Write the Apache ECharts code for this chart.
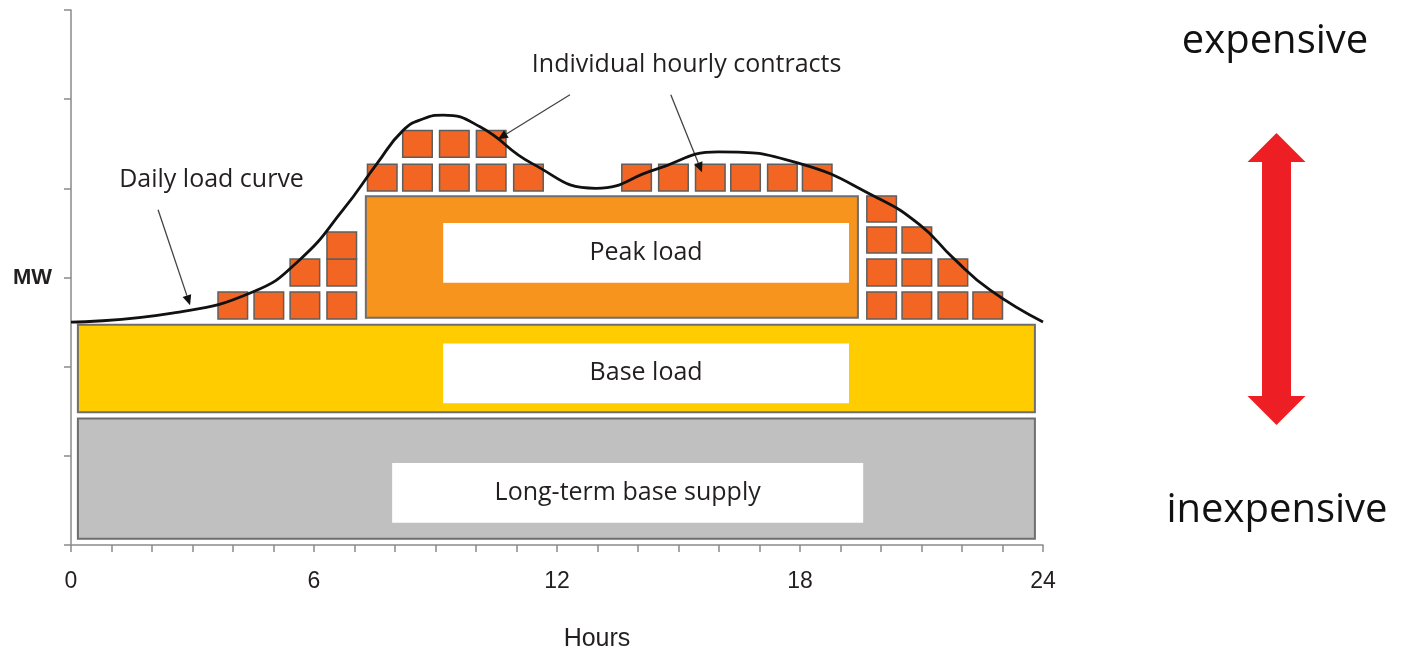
<!DOCTYPE html>
<html>
<head>
<meta charset="utf-8">
<script src="https://cdn.jsdelivr.net/npm/echarts@6/dist/echarts.min.js"></script>
<style>html,body{margin:0;padding:0;background:#fff}#c{width:1410px;height:652px}</style>
</head>
<body>
<div id="c"></div>
<script>
// ---- data (hours on x, MW on y) ----
const loadHour = [0, 2.5, 4.5, 5.65, 6.72, 7.56, 8.20, 8.70, 9.19, 10.10, 11.38, 12.96, 14.42, 15.98, 17.98, 19.88, 20.96, 21.78, 22.69, 24];
const loadMW   = [2.50, 2.60, 2.84, 3.20, 3.76, 4.28, 4.65, 4.78, 4.82, 4.69, 4.28, 4.00, 4.21, 4.41, 4.28, 3.90, 3.59, 3.22, 2.86, 2.50];

const xTickLabels = [0, 6, 12, 18, 24];
const yTickLabel = 'MW';

const bandNames = ['Long-term base supply', 'Base load', 'Peak load'];
const bandStart = [0.17, 0.17, 7.28];
const bandEnd   = [23.80, 23.80, 19.43];
const bandLow   = [0.07, 1.49, 2.55];
const bandHigh  = [1.42, 2.47, 3.91];

const labelStart = [7.93, 9.19, 9.19];
const labelEnd   = [19.56, 19.21, 19.21];
const labelLow   = [0.25, 1.59, 2.94];
const labelHigh  = [0.92, 2.26, 3.61];

// individual hourly contracts: start hour, low MW, high MW
const contractHour = [3.63,4.52,5.41,6.32, 5.41,6.32, 6.32,
  7.32,8.19,9.10,10.01,10.93,13.60,14.51,15.42,16.29,17.20,18.06,
  8.19,9.10,10.01,
  19.65,20.52,21.41,22.27, 19.65,20.52,21.41, 19.65,20.52, 19.65];
const contractLow  = [2.535,2.535,2.535,2.535, 2.905,2.905, 3.207,
  3.97,3.97,3.97,3.97,3.97,3.97,3.97,3.97,3.97,3.97,3.97,
  4.35,4.35,4.35,
  2.535,2.535,2.535,2.535, 2.905,2.905,2.905, 3.275,3.275, 3.622];
const contractHigh = [2.837,2.837,2.837,2.837, 3.207,3.207, 3.510,
  4.27,4.27,4.27,4.27,4.27,4.27,4.27,4.27,4.27,4.27,4.27,
  4.65,4.65,4.65,
  2.837,2.837,2.837,2.837, 3.207,3.207,3.207, 3.566,3.566, 3.914];
const CONTRACT_SPAN = 0.73; // hours

const annoText = ['Daily load curve', 'Individual hourly contracts'];
const annoX = [3.47, 15.20];
const annoY = [4.09, 5.39];

const arrowFromX = [2.15, 12.32, 14.81];
const arrowFromY = [3.76, 5.05, 5.05];
const arrowToX   = [2.94, 10.54, 15.58];
const arrowToY   = [2.69, 4.55, 4.18];

// ---- styles ----
const bandColors = ['#c0c0c0', '#ffcc00', '#f7941e'];
const TXT = '#231f20';
const FONT = "'Open Sans', 'Noto Sans', sans-serif";
const AXFONT = "'Liberation Sans', Arial, sans-serif";

const chart = echarts.init(document.getElementById('c'), null, {renderer: 'canvas'});

const bandData = bandNames.map((n, i) => [bandStart[i], bandEnd[i], bandLow[i], bandHigh[i], n]);
const labelData = bandNames.map((n, i) => [labelStart[i], labelEnd[i], labelLow[i], labelHigh[i], n]);
const contractData = contractHour.map((h, i) => [h, h + CONTRACT_SPAN, contractLow[i], contractHigh[i]]);
const annoData = annoText.map((t, i) => [annoX[i], annoY[i], t]);
const arrowData = arrowFromX.map((x, i) => [x, arrowFromY[i], arrowToX[i], arrowToY[i]]);

function rectShape(api) {
  const p0 = api.coord([api.value(0), api.value(3)]);
  const p1 = api.coord([api.value(1), api.value(2)]);
  return {x: p0[0], y: p0[1], width: p1[0] - p0[0], height: p1[1] - p0[1]};
}

const option = {
  animation: false,
  backgroundColor: '#ffffff',
  grid: {left: 71, right: 367, top: 10, bottom: 107, containLabel: false, outerBoundsMode: 'none'},
  xAxis: {
    type: 'value', min: 0, max: 24, interval: 1,
    name: 'Hours', nameLocation: 'middle', nameGap: 82,
    nameTextStyle: {fontFamily: AXFONT, fontSize: 25, color: TXT, padding: [0, 0, 0, 80]},
    axisLine: {show: true, lineStyle: {color: '#8a8a8a', width: 1.5}},
    axisTick: {show: true, length: 7, lineStyle: {color: '#8a8a8a', width: 1.5}},
    axisLabel: {
      margin: 25, fontFamily: AXFONT, fontSize: 23, color: TXT,
      formatter: v => xTickLabels.indexOf(v) >= 0 ? String(v) : ''
    },
    splitLine: {show: false}
  },
  yAxis: {
    type: 'value', min: 0, max: 6, interval: 1,
    axisLine: {show: true, lineStyle: {color: '#8a8a8a', width: 1.5}},
    axisTick: {show: true, length: 7, lineStyle: {color: '#8a8a8a', width: 1.5}},
    axisLabel: {
      margin: 19, fontFamily: AXFONT, fontSize: 22, fontWeight: 'bold', color: TXT,
      formatter: v => v === 3 ? yTickLabel : ''
    },
    splitLine: {show: false}
  },
  series: [
    {
      name: 'Daily load curve', type: 'line', smooth: 0.5, symbol: 'none',
      data: loadHour.map((h, i) => [h, loadMW[i]]),
      lineStyle: {color: '#111', width: 2.8}
    },
    {
      type: 'custom', name: 'bands', data: bandData, encode: {x: [0, 1], y: [2, 3]},
      renderItem: (params, api) => ({
        type: 'rect', shape: rectShape(api),
        style: {fill: bandColors[params.dataIndex], stroke: '#6e6e6e', lineWidth: 2}
      })
    },
    {
      type: 'custom', name: 'labels', data: labelData, encode: {x: [0, 1], y: [2, 3]},
      renderItem: (params, api) => {
        const s = rectShape(api);
        return {
          type: 'group',
          children: [
            {type: 'rect', shape: s, style: {fill: '#ffffff'}},
            {type: 'text', style: {
              text: bandNames[params.dataIndex], x: s.x + s.width / 2, y: s.y + s.height / 2,
              align: 'center', verticalAlign: 'middle', font: '25px ' + FONT, fill: TXT
            }}
          ]
        };
      }
    },
    {
      type: 'custom', name: 'contracts', data: contractData, encode: {x: [0, 1], y: [2, 3]},
      renderItem: (params, api) => ({
        type: 'rect', shape: rectShape(api),
        style: {fill: '#f26522', stroke: '#5e5e5e', lineWidth: 1.5}
      })
    },
    {
      type: 'custom', name: 'arrows', data: arrowData, encode: {x: [0, 2], y: [1, 3]},
      renderItem: (params, api) => {
        const a = api.coord([api.value(0), api.value(1)]);
        const b = api.coord([api.value(2), api.value(3)]);
        const dx = b[0] - a[0], dy = b[1] - a[1];
        const L = Math.sqrt(dx * dx + dy * dy), ux = dx / L, uy = dy / L;
        const hl = 10, hw = 4.5;
        const bx = b[0] - ux * hl, by = b[1] - uy * hl;
        return {
          type: 'group',
          children: [
            {type: 'line', shape: {x1: a[0], y1: a[1], x2: bx, y2: by}, style: {stroke: '#444', lineWidth: 1.3}},
            {type: 'polygon', shape: {points: [[b[0], b[1]], [bx - uy * hw, by + ux * hw], [bx + uy * hw, by - ux * hw]]},
              style: {fill: '#111'}}
          ]
        };
      }
    },
    {
      type: 'custom', name: 'annotations', data: annoData, encode: {x: 0, y: 1},
      renderItem: (params, api) => {
        const p = api.coord([api.value(0), api.value(1)]);
        return {type: 'text', style: {
          text: annoText[params.dataIndex], x: p[0], y: p[1],
          align: 'center', verticalAlign: 'middle', font: '25px ' + FONT, fill: TXT
        }};
      }
    }
  ],
  graphic: [
    {type: 'text', style: {text: 'expensive', x: 1275, y: 41.6, align: 'center', verticalAlign: 'middle', font: '40px ' + FONT, fill: '#111'}},
    {type: 'text', style: {text: 'inexpensive', x: 1277, y: 510.6, align: 'center', verticalAlign: 'middle', font: '40px ' + FONT, fill: '#111'}},
    {type: 'polygon', shape: {points: [
      [1276.5, 133], [1305.5, 162], [1291, 162], [1291, 396], [1305.5, 396], [1276.5, 425],
      [1247.5, 396], [1262, 396], [1262, 162], [1247.5, 162]
    ]}, style: {fill: '#ed1f24'}}
  ]
};
chart.setOption(option);
</script>
</body>
</html>
